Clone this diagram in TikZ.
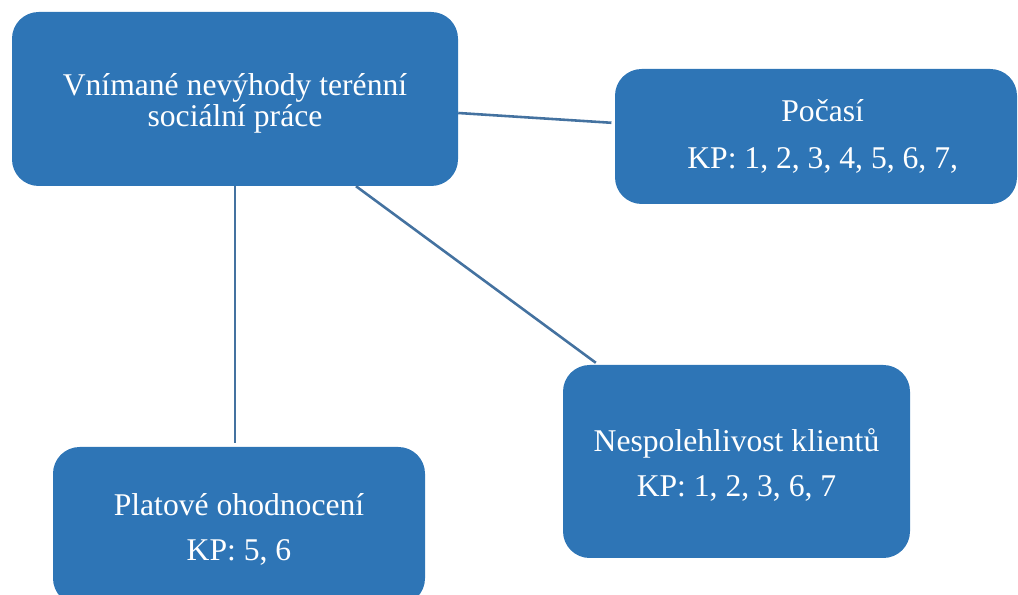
\documentclass[tikz,border=0pt]{standalone}
\usepackage{fontspec}
\setmainfont{Liberation Serif}
\usetikzlibrary{calc}
\definecolor{boxblue}{RGB}{46, 117, 182}
\definecolor{lineblue}{RGB}{68, 114, 160}

\begin{document}
\begin{tikzpicture}[x=0.03cm, y=0.03cm]
    % Define styles
    \tikzstyle{block} = [rectangle, fill=boxblue, text=white, align=center, rounded corners=0.8cm, inner sep=0pt, font=\fontsize{27}{34}\selectfont]
    \tikzstyle{line} = [draw=lineblue, line width=2.2pt, shorten >=0.1cm]

    \clip (0,0) rectangle (1018,595);

    % Nodes
    \node [block, minimum width=446*0.03cm, minimum height=174*0.03cm] (main) at (235,496) {\rule{0pt}{26pt}Vnímané nevýhody terénní\\[-0.27cm] sociální práce};
    \node [block, minimum width=402*0.03cm, minimum height=135*0.03cm] (pocasi) at (816,458.5) {\hspace*{0.4cm}Počasí\\[0.2cm] \hspace*{0.4cm}KP: 1, 2, 3, 4, 5, 6, 7,};
    \node [block, minimum width=347*0.03cm, minimum height=193*0.03cm] (nesp) at (736.5,133.5) {\rule{0pt}{25pt}Nespolehlivost klientů\\[0.15cm] KP: 1, 2, 3, 6, 7};
    \node [block, minimum width=372*0.03cm, minimum height=158*0.03cm] (plat) at (239,69) {\rule{0pt}{24pt}Platové ohodnocení\\[0.15cm] KP: 5, 6};

    % Connections
    \path [line] ($(main.east)+(0,-14)$) -- ($(pocasi.west)+(0,13.5)$);
    \path [line] ($(main.south)+(121,0)$) -- ($(nesp.north)+(-138,0)$);
    \path [line] (main.south) -- (main.south |- plat.north);
\end{tikzpicture}
\end{document}
